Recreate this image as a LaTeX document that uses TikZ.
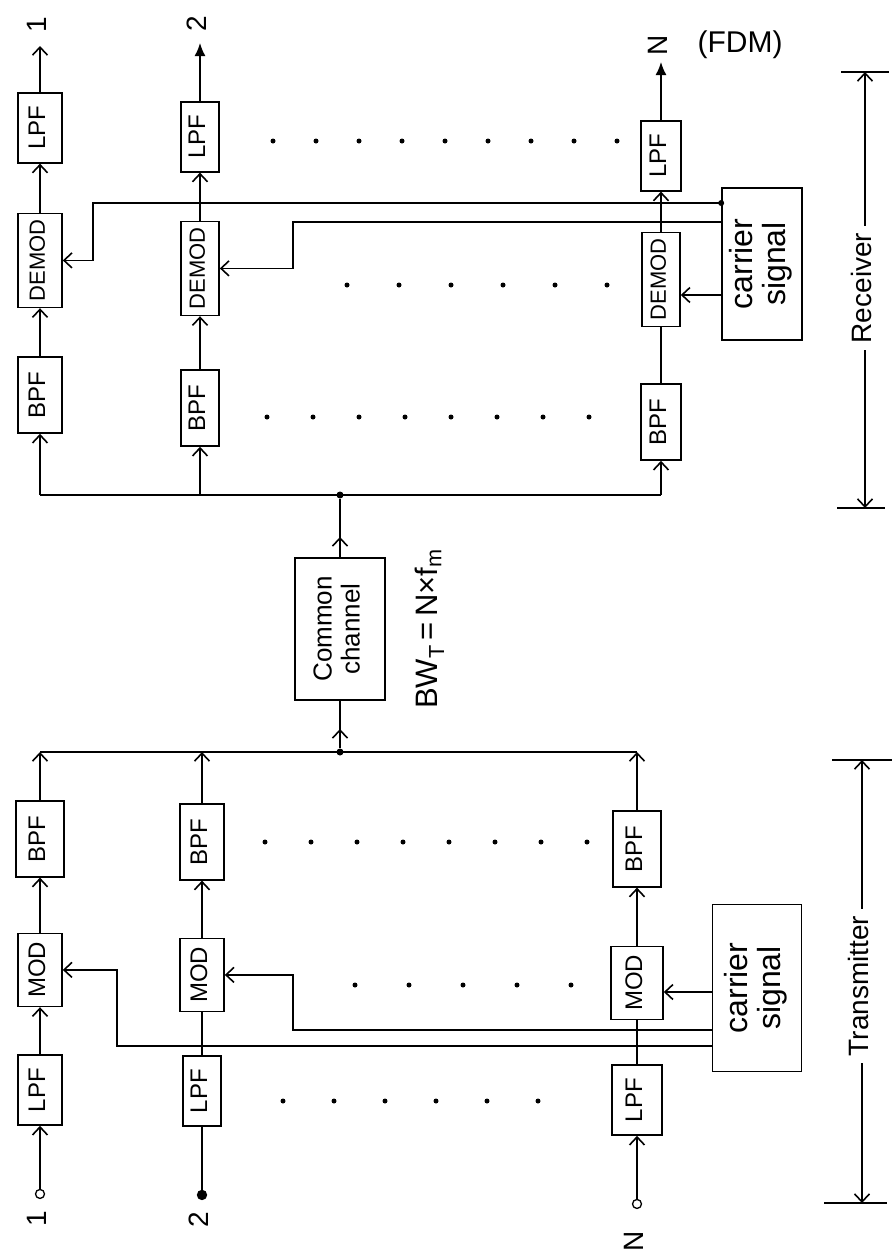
\documentclass[tikz,border=0pt]{standalone}
\usepackage{fontspec}
\setmainfont{Liberation Sans}
\usetikzlibrary{arrows.meta,positioning,decorations.markings}

\newcommand{\vtext}[1]{\rotatebox{90}{\begin{tabular}{@{}c@{}}#1\end{tabular}}}

\begin{document}
\begin{tikzpicture}[
    x=1pt, y=-1pt,
    line width=1.6pt,
    font=\fontsize{24}{26}\selectfont,
    blk/.style={draw, line width=1.6pt, minimum width=44pt, inner sep=0pt},
    lpfbox/.style={blk, minimum height=70pt},
    bpfbox/.style={blk, minimum height=76pt},
    dembox/.style={blk, minimum height=94pt, font=\fontsize{22}{24}\selectfont},
    modbox/.style={blk, minimum height=73pt},
    carbox/.style={blk, font=\fontsize{32}{32}\selectfont},
    arr/.style={-{Straight Barb[length=8pt, width=15pt]}},
    outarr/.style={-{Latex[length=13pt, width=11pt]}},
    midarr/.style={postaction={decorate}, decoration={markings,
        mark=at position #1 with {\arrow{Straight Barb[length=8pt, width=15pt]}}}},
    iolbl/.style={inner sep=1pt, font=\fontsize{28}{30}\selectfont},
    incirc/.style={circle, draw, line width=1.3pt, inner sep=0pt, minimum size=9pt},
    jdot/.style={circle, fill, inner sep=0pt, minimum size=7pt},
    dimlbl/.style={inner sep=6pt, font=\fontsize{28}{30}\selectfont},
  ]
  \useasboundingbox (0,0) rectangle (893,1259);

  % ===== RECEIVER (top half, signal flows upwards) =====
  \node[bpfbox] (rbpf1) at (40,395) {\vtext{BPF}};
  \node[dembox, above=48pt of rbpf1] (rdem1) {\vtext{DEMOD}};
  \node[lpfbox, above=49pt of rdem1] (rlpf1) {\vtext{LPF}};
  \coordinate[above=46pt of rlpf1] (rout1);
  \node[iolbl, above=12pt of rout1] (rout1l) {\vtext{1}};

  \node[bpfbox, minimum width=38pt] (rbpf2) at (200,408) {\vtext{BPF}};
  \node[dembox, minimum width=38pt, above=53pt of rbpf2] (rdem2) {\vtext{DEMOD}};
  \node[lpfbox, minimum width=38pt, above=48pt of rdem2] (rlpf2) {\vtext{LPF}};
  \coordinate[above=58pt of rlpf2] (rout2);
  \node[iolbl, above=10pt of rout2] (rout2l) {\vtext{2}};

  \node[bpfbox, minimum width=40pt] (rbpfn) at (661,422) {\vtext{BPF}};
  \node[dembox, minimum width=38pt, above=56pt of rbpfn] (rdemn) {\vtext{DEMOD}};
  \node[lpfbox, minimum width=40pt, above=40pt of rdemn] (rlpfn) {\vtext{LPF}};
  \coordinate[above=58pt of rlpfn] (routn);
  \node[iolbl, above=5pt of routn] (routnl) {\vtext{N}};
  \node[iolbl, right=18pt of routnl, font=\fontsize{30}{32}\selectfont] (fdm) {(FDM)};

  \node[carbox, minimum width=80pt, minimum height=152pt] (rcar) at (762,264)
      {\vtext{carrier\\signal}};

  % chain arrows
  \foreach \c in {1,2,n} {
    \draw[arr] (rdem\c) -- (rlpf\c);
  }
  \draw[arr] (rbpf1) -- (rdem1);
  \draw[arr] (rbpf2) -- (rdem2);
  \draw (rbpfn) -- (rdemn);
  \draw[arr] (rlpf1) -- (rout1);
  \draw[outarr] (rlpf2) -- (rout2);
  \draw[outarr] (rlpfn) -- (routn);

  % receiver bus
  \coordinate (rxbus) at (0,495);
  \draw (rbpf1 |- rxbus) -- (rbpfn |- rxbus);
  \foreach \c in {1,2,n} {
    \draw[arr] (rbpf\c |- rxbus) -- (rbpf\c);
  }

  % local carriers to the demodulators
  \coordinate (rk1) at (93,203);
  \coordinate (rk2) at (293,222);
  \draw[arr] ([yshift=61pt]rcar.west) -- (rk1) |- (rdem1.east);
  \draw[arr] ([yshift=42pt]rcar.west) -- (rk2) |- (rdem2.east);
  \draw[arr] ([yshift=-31pt]rcar.west) -- ([yshift=-31pt]rcar.west -| rdemn.east);
  \node[jdot, minimum size=6pt] (rcdot) at ([yshift=61pt]rcar.west) {};

  % continuation dots
  \foreach \x in {273,316,...,617} \fill (\x,141) circle (2.5pt);
  \foreach \x in {347,399,...,607} \fill (\x,285) circle (2.5pt);
  \foreach \x in {267,313,...,589} \fill (\x,417) circle (2.5pt);

  % ===== COMMON CHANNEL =====
  \coordinate (txbus) at (0,752);
  \node[blk, minimum width=90pt, minimum height=142pt, font=\fontsize{26}{28}\selectfont]
      (chan) at (340,629) {\vtext{Common\\channel}};
  \node[jdot] (jrx) at (chan |- rxbus) {};
  \node[jdot] (jtx) at (chan |- txbus) {};
  \draw[midarr=0.4] (jtx) -- (chan);
  \draw[midarr=0.35] (chan) -- (jrx);
  \node[right=26pt of chan, inner sep=2pt, font=\fontsize{31}{33}\selectfont] (bw)
      {\vtext{BW\textsubscript{T}\,=\,N×f\textsubscript{m}}};

  % ===== TRANSMITTER (bottom half) =====
  \node[lpfbox] (tlpf1) at (40,1090) {\vtext{LPF}};
  \node[modbox, above=47pt of tlpf1] (tmod1) {\vtext{MOD}};
  \node[bpfbox, minimum width=48pt, above=55pt of tmod1] (tbpf1) {\vtext{BPF}};
  \node[incirc, below=63pt of tlpf1] (tin1) {};
  \node[iolbl, below=10pt of tin1] (tin1l) {\vtext{1}};

  \node[lpfbox, minimum width=38pt] (tlpf2) at (202,1091) {\vtext{LPF}};
  \node[modbox, above=43pt of tlpf2] (tmod2) {\vtext{MOD}};
  \node[bpfbox, above=57pt of tmod2] (tbpf2) {\vtext{BPF}};
  \node[incirc, fill=black, below=63pt of tlpf2] (tin2) {};
  \node[iolbl, below=10pt of tin2] (tin2l) {\vtext{2}};

  \node[lpfbox, minimum width=50pt] (tlpfn) at (637,1100) {\vtext{LPF}};
  \node[modbox, minimum width=52pt, above=44pt of tlpfn] (tmodn) {\vtext{MOD}};
  \node[bpfbox, minimum width=48pt, above=58pt of tmodn] (tbpfn) {\vtext{BPF}};
  \node[incirc, below=63pt of tlpfn] (tinn) {};
  \node[iolbl, below=20pt of tinn] (tinnl) {\vtext{N}};

  \node[carbox, minimum width=89pt, minimum height=167pt] (tcar) at (757,988)
      {\vtext{carrier\\signal}};

  % chain arrows
  \foreach \c in {1,2,n} {
    \draw[arr] (tmod\c) -- (tbpf\c);
    \draw[arr] (tbpf\c) -- (tbpf\c |- txbus);
  }
  \draw[arr] (tin1) -- (tlpf1);
  \draw (tin2) -- (tlpf2);
  \draw[arr] (tinn) -- (tlpfn);
  \draw[arr] (tlpf1) -- (tmod1);
  \draw (tlpf2) -- (tmod2);
  \draw (tlpfn) -- (tmodn);

  % transmitter bus
  \draw (tbpf1 |- txbus) -- (tbpfn |- txbus);

  % carriers to the modulators
  \coordinate (tk1) at (117,1046);
  \coordinate (tk2) at (293,1030);
  \draw[arr] ([yshift=-58pt]tcar.west) -- (tk1) |- (tmod1.east);
  \draw[arr] ([yshift=-42pt]tcar.west) -- (tk2) |- (tmod2.east);
  \draw[arr] ([yshift=-4pt]tcar.west) -- ([yshift=-4pt]tcar.west -| tmodn.east);

  % continuation dots
  \foreach \x in {265,311,...,587} \fill (\x,842) circle (2.5pt);
  \foreach \x in {355,409,...,571} \fill (\x,985) circle (2.5pt);
  \foreach \x in {283,334,...,538} \fill (\x,1101) circle (2.5pt);

  % ===== SPAN MARKERS =====
  \node[dimlbl] (rxlbl) at (865,288) {\vtext{Receiver}};
  \coordinate (rxtop) at (865,72);
  \coordinate (rxbot) at (865,508);
  \draw[arr] (rxlbl) -- (rxtop);
  \draw[arr] (rxlbl) -- (rxbot);
  \draw ([xshift=-24pt]rxtop) -- ([xshift=24pt]rxtop);
  \draw ([xshift=-28pt]rxbot) -- ([xshift=20pt]rxbot);

  \node[dimlbl] (txlbl) at (862,986) {\vtext{Transmitter}};
  \coordinate (txtop) at (862,760);
  \coordinate (txbot) at (862,1203);
  \draw[arr] (txlbl) -- (txtop);
  \draw[arr] (txlbl) -- (txbot);
  \draw ([xshift=-30pt]txtop) -- ([xshift=30pt]txtop);
  \draw ([xshift=-38pt]txbot) -- ([xshift=25pt]txbot);

\end{tikzpicture}
\end{document}
